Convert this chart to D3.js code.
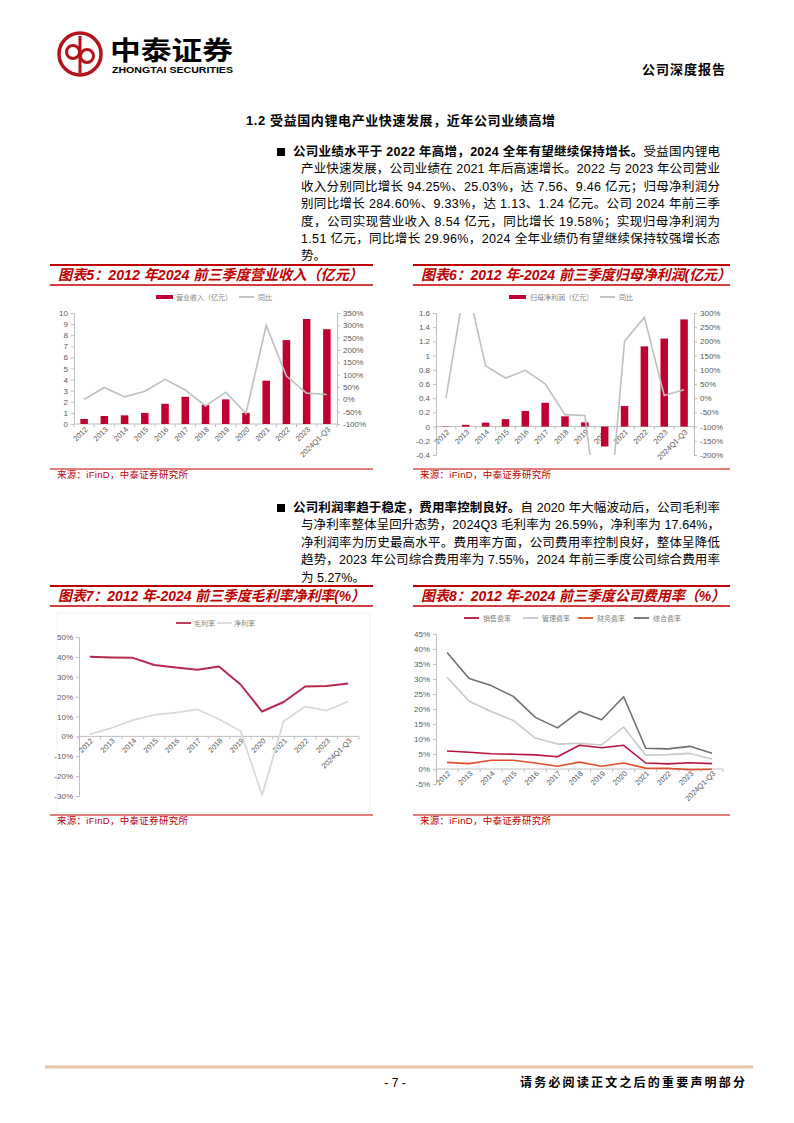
<!DOCTYPE html>
<html>
<head>
<meta charset="utf-8">
<script src="https://cdn.jsdelivr.net/npm/d3@7"></script>
<style>
  html, body { margin: 0; padding: 0; background: #fff; }
  svg { display: block; }
</style>
</head>
<body>
<script>
// data
const years = ['2012','2013','2014','2015','2016','2017','2018','2019','2020','2021','2022','2023','2024Q1-Q3'];
const revenue = [0.45, 0.72, 0.78, 1.0, 1.82, 2.45, 1.72, 2.22, 1.0, 3.9, 7.56, 9.46, 8.54];
const revenueYoy = [0, 48, 10, 33, 81, 38, -27, 29, -57, 300, 94.25, 25.03, 19.58];
const profit = [0.004, 0.025, 0.055, 0.105, 0.22, 0.335, 0.145, 0.06, -0.28, 0.29, 1.13, 1.24, 1.51];
const profitYoy = [0, 420, 114, 71, 98, 51, -58, -61, -600, 201, 284.6, 9.33, 29.96];
const grossMargin = [40.1, 39.7, 39.5, 35.9, 34.7, 33.5, 35.2, 26.1, 12.5, 17.3, 25.1, 25.3, 26.59];
const netMargin = [1.0, 4.2, 8.2, 10.8, 12.0, 13.6, 8.6, 2.7, -29.5, 7.6, 15.0, 13.0, 17.64];
const sellRate = [6.0, 5.6, 5.1, 4.9, 4.7, 4.1, 7.9, 7.1, 7.9, 2.0, 1.7, 2.1, 1.8];
const adminRate = [30.6, 22.6, 19.2, 16.2, 10.3, 8.3, 8.6, 8.0, 14.0, 4.6, 4.8, 5.2, 3.3];
const finRate = [2.2, 1.8, 2.9, 2.9, 2.0, 0.9, 2.3, 0.9, 2.0, 0.3, 0.2, -0.2, -0.1];
const totalRate = [38.8, 30.2, 27.8, 24.2, 17.2, 13.7, 19.2, 16.4, 24.1, 6.9, 6.7, 7.55, 5.27];

const SANS = '"Liberation Sans", Arial, "Noto Sans CJK SC", sans-serif';
const RED = '#c00000';
const BAR = '#c00030';
const GRAY = '#bfbfbf';

var svg = d3.select('body').append('svg')
  .attr('width', 794)
  .attr('height', 1123)
  .style('font-family', SANS);

// ---------- header ----------
var logo = svg.append('g');
logo.append('circle').attr('cx', 80).attr('cy', 54).attr('r', 21)
  .attr('fill', 'none').attr('stroke', '#b5121b').attr('stroke-width', 3.5);
logo.append('circle').attr('cx', 73).attr('cy', 52).attr('r', 6.5)
  .attr('fill', 'none').attr('stroke', '#b5121b').attr('stroke-width', 3);
logo.append('circle').attr('cx', 87).attr('cy', 56).attr('r', 6.5)
  .attr('fill', 'none').attr('stroke', '#b5121b').attr('stroke-width', 3);
logo.append('line').attr('x1', 80).attr('x2', 80).attr('y1', 36).attr('y2', 73)
  .attr('stroke', '#b5121b').attr('stroke-width', 3);
svg.append('text').attr('x', 110).attr('y', 60).text('中泰证券')
  .style('font-size', '26px').style('font-weight', 'bold')
  .attr('textLength', 123).attr('lengthAdjust', 'spacingAndGlyphs');
svg.append('text').attr('x', 112).attr('y', 73).text('ZHONGTAI SECURITIES')
  .style('font-size', '9px').style('font-weight', 'bold')
  .attr('textLength', 121).attr('lengthAdjust', 'spacingAndGlyphs');
svg.append('text').attr('x', 642).attr('y', 74).text('公司深度报告')
  .style('font-size', '13px').style('font-weight', 'bold')
  .attr('textLength', 83);

// ---------- body text ----------
svg.append('text').attr('x', 246).attr('y', 124.5)
  .text('1.2  受益国内锂电产业快速发展，近年公司业绩高增')
  .style('font-size', '13px').style('font-weight', 'bold')
  .attr('textLength', 309);

function paragraph(top, lines) {
  // bullet square
  svg.append('rect').attr('x', 277).attr('y', top - 8).attr('width', 8).attr('height', 8).attr('fill', '#000');
  lines.forEach(function(ln, i) {
    var x = i === 0 ? 293 : 301;
    var t = svg.append('text').attr('x', x).attr('y', top + i * 17.4).style('font-size', '12.5px');
    if (i < lines.length - 1) t.attr('textLength', 720 - x).attr('lengthAdjust', 'spacing');
    ln.forEach(function(part) {
      t.append('tspan').text(part[0]).style('font-weight', part[1] ? 'bold' : 'normal');
    });
  });
}

paragraph(156, [
  [['公司业绩水平于 2022 年高增，2024 全年有望继续保持增长。', 1], ['受益国内锂电', 0]],
  [['产业快速发展，公司业绩在 2021 年后高速增长。2022 与 2023 年公司营业', 0]],
  [['收入分别同比增长 94.25%、25.03%，达 7.56、9.46 亿元；归母净利润分', 0]],
  [['别同比增长 284.60%、9.33%，达 1.13、1.24 亿元。公司 2024 年前三季', 0]],
  [['度，公司实现营业收入 8.54 亿元，同比增长 19.58%；实现归母净利润为', 0]],
  [['1.51 亿元，同比增长 29.96%，2024 全年业绩仍有望继续保持较强增长态', 0]],
  [['势。', 0]]
]);

paragraph(512, [
  [['公司利润率趋于稳定，费用率控制良好。', 1], ['自 2020 年大幅波动后，公司毛利率', 0]],
  [['与净利率整体呈回升态势，2024Q3 毛利率为 26.59%，净利率为 17.64%，', 0]],
  [['净利润率为历史最高水平。费用率方面，公司费用率控制良好，整体呈降低', 0]],
  [['趋势，2023 年公司综合费用率为 7.55%，2024 年前三季度公司综合费用率', 0]],
  [['为 5.27%。', 0]]
]);

// ---------- chart frames ----------
function frame(x0, x1, top, bottom, title, titleLen) {
  svg.append('line').attr('x1', x0).attr('x2', x1).attr('y1', top).attr('y2', top)
    .attr('stroke', RED).attr('stroke-width', 2);
  svg.append('line').attr('x1', x0).attr('x2', x1).attr('y1', top + 20).attr('y2', top + 20)
    .attr('stroke', RED).attr('stroke-width', 1.5);
  svg.append('text').attr('x', x0 + 8).attr('y', top + 15).text(title)
    .attr('fill', RED).style('font-size', '14.5px').style('font-weight', 'bold')
    .style('font-style', 'italic').attr('textLength', titleLen).attr('lengthAdjust', 'spacingAndGlyphs');
  svg.append('line').attr('x1', x0).attr('x2', x1).attr('y1', bottom).attr('y2', bottom)
    .attr('stroke', '#d9534f').attr('stroke-width', 1.5);
  svg.append('text').attr('x', x0 + 7).attr('y', bottom + 9).text('来源：iFinD，中泰证券研究所')
    .attr('fill', RED).style('font-size', '9.5px').attr('textLength', 131);
}

frame(50, 373, 265, 469, '图表5：2012 年2024 前三季度营业收入（亿元）', 305);
frame(413, 730, 265, 469, '图表6：2012 年-2024 前三季度归母净利润(亿元）', 310);
frame(50, 373, 586, 815, '图表7：2012 年-2024 前三季度毛利率净利率(%）', 307);
frame(413, 730, 586, 815, '图表8：2012 年-2024 前三季度公司费用率（%）', 304);

// ---------- helpers ----------
function styleAxis(g) {
  g.select('.domain').attr('stroke', GRAY);
  g.selectAll('.tick line').attr('stroke', GRAY);
  g.selectAll('.tick text').attr('fill', '#595959').style('font-size', '8px').style('font-family', SANS);
}

function xAxis(x, y0, dy) {
  var g = svg.append('g');
  var r = x.range();
  g.append('line').attr('x1', r[0]).attr('x2', r[1]).attr('y1', y0).attr('y2', y0).attr('stroke', GRAY);
  var bounds = years.map(function(d) { return x(d); }).concat([x(years[years.length - 1]) + x.bandwidth()]);
  g.selectAll('.bt').data(bounds).enter().append('line')
    .attr('x1', d => d).attr('x2', d => d).attr('y1', y0).attr('y2', y0 + 3).attr('stroke', GRAY);
  g.selectAll('.lab').data(years).enter().append('text')
    .attr('transform', d => 'translate(' + (x(d) + x.bandwidth() / 2 + 4) + ',' + (y0 + dy) + ') rotate(-45)')
    .attr('text-anchor', 'end').attr('fill', '#595959')
    .style('font-size', '7.5px').text(d => d);
}

function legend(items, y) {
  var g = svg.append('g');
  items.forEach(function(it) {
    if (it.type === 'bar') {
      g.append('rect').attr('x', it.x).attr('y', y - 2).attr('width', 17).attr('height', 4).attr('fill', it.color);
    } else {
      g.append('line').attr('x1', it.x).attr('x2', it.x + 15).attr('y1', y).attr('y2', y)
        .attr('stroke', it.color).attr('stroke-width', 1.8);
    }
    g.append('text').attr('x', it.tx).attr('y', y + 2.5).text(it.name)
      .attr('fill', '#7f7f7f').style('font-size', '7px');
  });
}

// ---------- chart 5 ----------
(function() {
  var x = d3.scaleBand().domain(years).range([74, 337]);
  var y = d3.scaleLinear().domain([0, 10]).range([424, 313]);
  var r = d3.scaleLinear().domain([-100, 350]).range([424, 313]);
  svg.append('g').attr('transform', 'translate(74,0)')
    .call(d3.axisLeft(y).ticks(10).tickSize(3).tickPadding(3)).call(styleAxis);
  svg.append('g').attr('transform', 'translate(337,0)')
    .call(d3.axisRight(r).tickValues(d3.range(-100, 351, 50)).tickFormat(d => d + '%').tickSize(3).tickPadding(3))
    .call(styleAxis);
  xAxis(x, y(0), 6);
  var bw = 7.5;
  svg.selectAll('.b5').data(revenue).enter().append('rect')
    .attr('x', (d, i) => x(years[i]) + x.bandwidth() / 2 - bw / 2)
    .attr('y', d => y(d)).attr('width', bw).attr('height', d => y(0) - y(d)).attr('fill', BAR);
  var line = d3.line().x((d, i) => x(years[i]) + x.bandwidth() / 2).y(d => r(d));
  svg.append('path').datum(revenueYoy).attr('d', line).attr('fill', 'none')
    .attr('stroke', GRAY).attr('stroke-width', 1.6);
  legend([
    { type: 'bar', x: 156, tx: 176, color: BAR, name: '营业收入（亿元）' },
    { type: 'line', x: 239, tx: 258, color: GRAY, name: '同比' }
  ], 297);
})();

// ---------- chart 6 ----------
(function() {
  var x = d3.scaleBand().domain(years).range([436, 694]);
  var y = d3.scaleLinear().domain([-0.4, 1.6]).range([455, 313]);
  var r = d3.scaleLinear().domain([-200, 300]).range([455, 313]);
  var lt = d3.range(-2, 9).map(d => d / 5);
  svg.append('g').attr('transform', 'translate(436,0)')
    .call(d3.axisLeft(y).tickValues(lt).tickFormat(d => String(+d.toFixed(1))).tickSize(3).tickPadding(3))
    .call(styleAxis);
  svg.append('g').attr('transform', 'translate(694,0)')
    .call(d3.axisRight(r).tickValues(d3.range(-200, 301, 50)).tickFormat(d => d + '%').tickSize(3).tickPadding(3))
    .call(styleAxis);
  xAxis(x, y(0), 6);
  var bw = 7.5;
  svg.selectAll('.b6').data(profit).enter().append('rect')
    .attr('x', (d, i) => x(years[i]) + x.bandwidth() / 2 - bw / 2)
    .attr('y', d => y(Math.max(0, d))).attr('width', bw)
    .attr('height', d => Math.abs(y(0) - y(d))).attr('fill', BAR);
  svg.append('clipPath').attr('id', 'clip6').append('rect')
    .attr('x', 436).attr('y', 313).attr('width', 258).attr('height', 142);
  var line = d3.line().x((d, i) => x(years[i]) + x.bandwidth() / 2).y(d => r(d));
  svg.append('path').datum(profitYoy).attr('d', line).attr('fill', 'none')
    .attr('clip-path', 'url(#clip6)')
    .attr('stroke', GRAY).attr('stroke-width', 1.6);
  legend([
    { type: 'bar', x: 509, tx: 530, color: BAR, name: '归母净利润（亿元）' },
    { type: 'line', x: 600, tx: 619, color: GRAY, name: '同比' }
  ], 297);
})();

// ---------- line charts ----------
function lineChart(opt) {
  var x = d3.scaleBand().domain(years).range([opt.x0, opt.x1]);
  var y = d3.scaleLinear().domain(opt.domain).range([opt.yb, opt.yt]);
  svg.append('g').attr('transform', 'translate(' + opt.x0 + ',0)')
    .call(d3.axisLeft(y).tickValues(opt.ticks).tickFormat(d => d + '%').tickSize(3).tickPadding(3))
    .call(styleAxis);
  xAxis(x, y(0), 5);
  var line = d3.line().x((d, i) => x(years[i]) + x.bandwidth() / 2).y(d => y(d));
  opt.series.forEach(function(s) {
    svg.append('path').datum(s.values).attr('d', line).attr('fill', 'none')
      .attr('stroke', s.color).attr('stroke-width', s.w || 1.8).attr('stroke-linejoin', 'round');
  });
}

// chart 7
svg.append('rect').attr('x', 57).attr('y', 613).attr('width', 313).attr('height', 199)
  .attr('fill', 'none').attr('stroke', '#f0f0f0');
lineChart({
  x0: 79, x1: 359, yt: 637, yb: 796, domain: [-30, 50], ticks: d3.range(-30, 51, 10),
  series: [
    { values: netMargin, color: '#d9d9d9', w: 1.8 },
    { values: grossMargin, color: '#b8294f', w: 2 }
  ]
});
legend([
  { type: 'line', x: 176, tx: 194, color: '#b8294f', name: '毛利率' },
  { type: 'line', x: 217, tx: 234, color: '#d9d9d9', name: '净利率' }
], 623);

// chart 8
lineChart({
  x0: 436, x1: 723, yt: 634, yb: 784, domain: [-5, 45], ticks: d3.range(-5, 46, 5),
  series: [
    { values: adminRate, color: '#c8c8c8', w: 1.6 },
    { values: totalRate, color: '#6f6f6f', w: 1.6 },
    { values: finRate, color: '#e0502a', w: 1.6 },
    { values: sellRate, color: '#b8123e', w: 1.6 }
  ]
});
legend([
  { type: 'line', x: 464, tx: 483, color: '#b8123e', name: '销售费率' },
  { type: 'line', x: 523, tx: 542, color: '#c8c8c8', name: '管理费率' },
  { type: 'line', x: 578, tx: 597, color: '#e0502a', name: '财务费率' },
  { type: 'line', x: 634, tx: 653, color: '#6f6f6f', name: '综合费率' }
], 618);

// ---------- footer ----------
svg.append('line').attr('x1', 45).attr('x2', 753).attr('y1', 1067).attr('y2', 1067)
  .attr('stroke', '#e3c3a9').attr('stroke-width', 3);
svg.append('text').attr('x', 395).attr('y', 1087).attr('text-anchor', 'middle')
  .text('- 7 -').style('font-size', '12px');
svg.append('text').attr('x', 520).attr('y', 1087).text('请务必阅读正文之后的重要声明部分')
  .style('font-size', '12px').style('font-weight', 'bold').attr('textLength', 225);
</script>
</body>
</html>
